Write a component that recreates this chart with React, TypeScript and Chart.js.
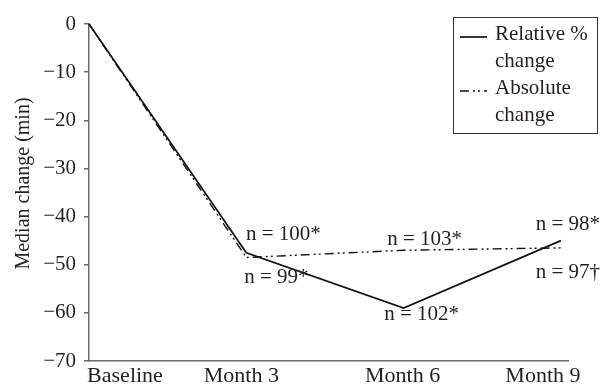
import React, { useEffect, useRef } from "react";
import { Chart, registerables } from "chart.js";

Chart.register(...registerables);

// ---- data ----
const categories = ["Baseline", "Month 3", "Month 6", "Month 9"];
const relativeChange = [0, -47.5, -59, -45];
const absoluteChange = [0, -48.5, -47, -46.5];
const relativeN = ["", "n = 100*", "n = 102*", "n = 98*"];
const absoluteN = ["", "n = 99*", "n = 103*", "n = 97†"];
const seriesNames = ["Relative % change", "Absolute change"];
const yTickValues = [0, -10, -20, -30, -40, -50, -60, -70];
const yAxisTitle = "Median change (min)";

// ---- style ----
const FONT = "'Liberation Serif', 'Times New Roman', serif";
const FS = 21;
const XFS = 22;
const TEXT = "#231f20";
const AXIS = "#6b6b6b";
// [dx, dy] from the point, text centred
const REL_OFFSETS: [number, number][] = [[0, 0], [37, -13], [18, 12], [7, -11]];
const ABS_OFFSETS: [number, number][] = [[0, 0], [30, 26], [21, -5], [7, 30]];
const XLABEL_DX = [36, -5, -1, -18];

const fmtTick = (v: number) => (v < 0 ? "\u2212" + Math.abs(v) : String(v));

const annotPlugin = {
  id: "annot",
  afterDatasetsDraw(chart: any) {
    const ctx = chart.ctx;
    const xs = chart.scales.x;
    const ys = chart.scales.y;
    const area = chart.chartArea;
    ctx.save();
    ctx.fillStyle = TEXT;
    ctx.textBaseline = "alphabetic";
    ctx.textAlign = "center";
    ctx.font = `${FS}px ${FONT}`;
    const sets: [number[], string[], [number, number][]][] = [
      [relativeChange, relativeN, REL_OFFSETS],
      [absoluteChange, absoluteN, ABS_OFFSETS],
    ];
    sets.forEach(([vals, labels, offs]) => {
      vals.forEach((v, i) => {
        if (!labels[i]) return;
        const px = xs.getPixelForValue(i);
        const py = ys.getPixelForValue(v);
        ctx.fillText(labels[i], px + offs[i][0], py + offs[i][1]);
      });
    });
    // x category labels
    ctx.font = `${XFS}px ${FONT}`;
    categories.forEach((c, i) => {
      const px = xs.getPixelForValue(i);
      ctx.fillText(c, px + XLABEL_DX[i], area.bottom + 21);
    });
    // y axis title
    ctx.save();
    ctx.font = `20px ${FONT}`;
    ctx.translate(29, (area.top + area.bottom) / 2 - 9);
    ctx.rotate(-Math.PI / 2);
    ctx.fillText(yAxisTitle, 0, 0);
    ctx.restore();
    // legend
    ctx.font = `${FS}px ${FONT}`;
    const boxR = chart.width - 9;
    const boxL = boxR - 144;
    const boxT = 17;
    const boxB = 133;
    ctx.lineWidth = 1;
    ctx.strokeStyle = "#333";
    ctx.setLineDash([]);
    ctx.strokeRect(boxL + 0.5, boxT + 0.5, boxR - boxL, boxB - boxT);
    ctx.textAlign = "left";
    const textX = boxL + 42;
    const maxW = boxR - textX - 2;
    let baseline = boxT + 23;
    chart.data.datasets.forEach((ds: any) => {
      const words = String(ds.label).split(" ");
      const lines: string[] = [];
      let cur = "";
      words.forEach((w: string) => {
        const t = cur ? cur + " " + w : w;
        if (ctx.measureText(t).width > maxW && cur) {
          lines.push(cur);
          cur = w;
        } else cur = t;
      });
      if (cur) lines.push(cur);
      ctx.save();
      ctx.strokeStyle = ds.borderColor;
      ctx.lineWidth = ds.borderWidth;
      ctx.setLineDash(ds.borderDash || []);
      ctx.beginPath();
      ctx.moveTo(boxL + 7, baseline - 3);
      ctx.lineTo(boxL + 34, baseline - 3);
      ctx.stroke();
      ctx.restore();
      lines.forEach((ln) => {
        ctx.fillText(ln, textX, baseline);
        baseline += 27;
      });
    });
    ctx.restore();
  },
};

export default function App() {
  const ref = useRef<HTMLCanvasElement | null>(null);
  useEffect(() => {
    if (!ref.current) return;
    const chart = new Chart(ref.current, {
      type: "line",
      data: {
        datasets: [
          {
            label: seriesNames[0],
            data: relativeChange.map((v, i) => ({ x: i, y: v })),
            borderColor: "#111",
            borderWidth: 1.7,
            pointRadius: 0,
            tension: 0,
            clip: false as any,
          },
          {
            label: seriesNames[1],
            data: absoluteChange.map((v, i) => ({ x: i, y: v })),
            borderColor: "#111",
            borderWidth: 1.4,
            borderDash: [9, 4, 2, 3, 2, 4],
            pointRadius: 0,
            tension: 0,
            clip: false as any,
          },
        ],
      },
      plugins: [annotPlugin],
      options: {
        animation: false,
        responsive: false,
        devicePixelRatio: 1,
        layout: { padding: { top: 24, right: 38, left: 0, bottom: 0 } },
        plugins: { legend: { display: false }, tooltip: { enabled: false } },
        scales: {
          x: {
            type: "linear",
            min: 0,
            max: 3.045,
            ticks: { display: false },
            grid: { display: false },
            border: { display: true, color: AXIS, width: 1.5 },
            afterFit: (s: any) => {
              s.height = 23;
            },
          },
          y: {
            type: "linear",
            min: -70,
            max: 0,
            afterBuildTicks: (s: any) => {
              s.ticks = yTickValues.map((v) => ({ value: v }));
            },
            ticks: {
              callback: (v: any) => fmtTick(Number(v)),
              font: { family: FONT, size: FS },
              color: TEXT,
              padding: 8,
            },
            grid: {
              display: true,
              drawOnChartArea: false,
              drawTicks: true,
              tickLength: 5,
              color: AXIS,
              lineWidth: 1.5,
            },
            border: { display: true, color: AXIS, width: 1.5 },
            title: { display: false },
            afterFit: (s: any) => {
              s.width = 89;
            },
          },
        },
      },
    });
    return () => chart.destroy();
  }, []);
  return (
    <div style={{ position: "fixed", left: 0, top: 0, width: 606, height: 384, background: "#fff" }}>
      <canvas ref={ref} width={606} height={384} />
    </div>
  );
}
